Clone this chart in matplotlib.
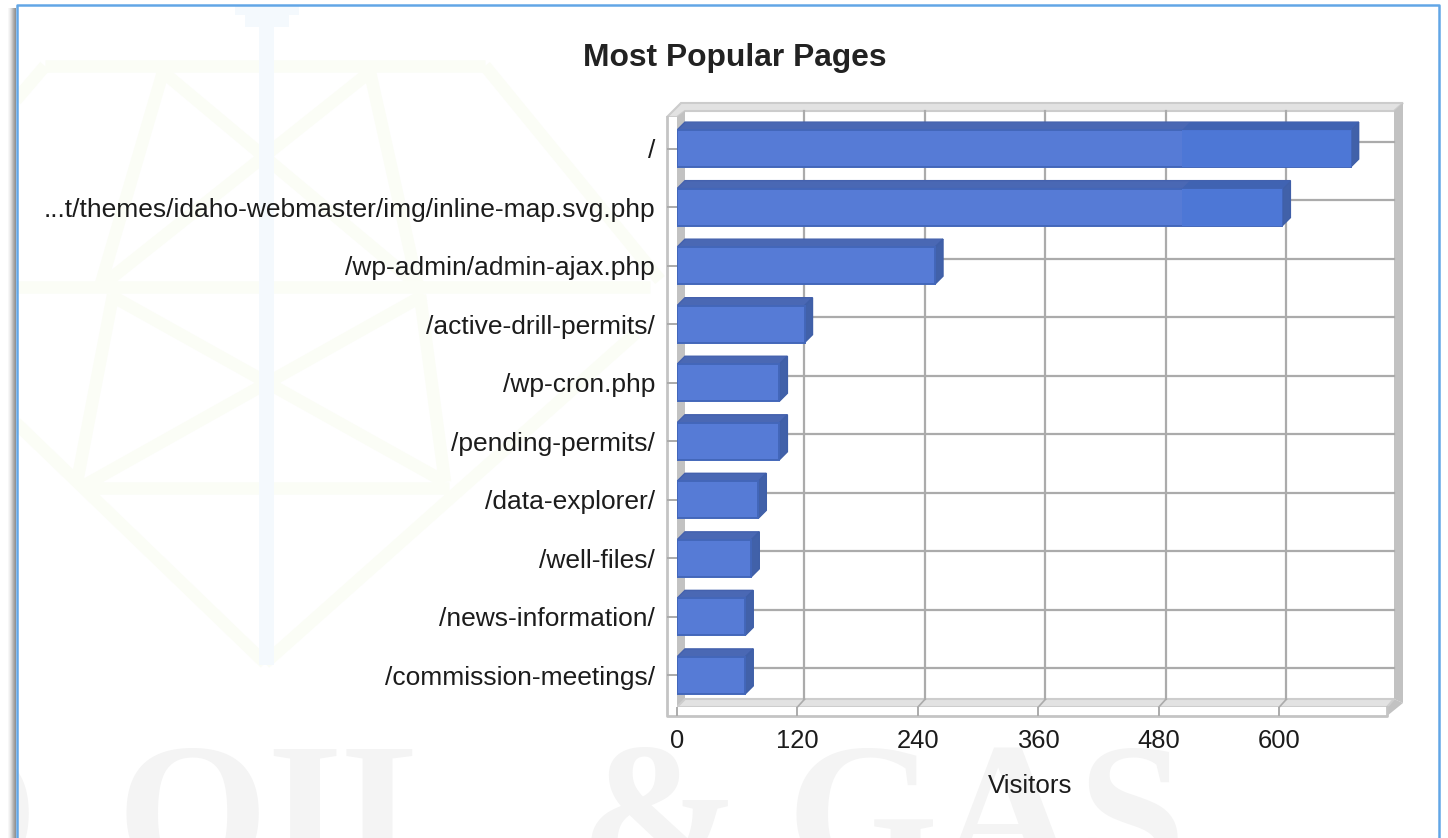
#!/usr/bin/env python3
"""Most Popular Pages: flat 3D style horizontal bar chart on a watermarked panel."""

import matplotlib
matplotlib.use("Agg")
import matplotlib.pyplot as plt
from matplotlib.patches import Polygon, Rectangle

pages = [
    "/",
    "...t/themes/idaho-webmaster/img/inline-map.svg.php",
    "/wp-admin/admin-ajax.php",
    "/active-drill-permits/",
    "/wp-cron.php",
    "/pending-permits/",
    "/data-explorer/",
    "/well-files/",
    "/news-information/",
    "/commission-meetings/",
]
visitors = [671, 603, 257, 127, 102, 102, 81, 74, 68, 68]
x_ticks = [0, 120, 240, 360, 480, 600]

FONT = "Liberation Sans"
TEXT_COLOR = "#1c1c1c"
WALL = "#c2c2c2"
FLOOR = "#e2e2e2"
GRID = "#ababab"

W, H = 1448, 838
fig = plt.figure(figsize=(W / 100, H / 100), dpi=100, facecolor="white")

# background layer in pixel coordinates: panel, watermark, chart walls
bg = fig.add_axes([0, 0, 1, 1], zorder=0)
bg.set_xlim(0, W)
bg.set_ylim(H, 0)
bg.axis("off")

# gem watermark
green = "#fbfdf6"
gem_lines = [
    [(45, 66), (485, 66)],
    [(45, 66), (16, 100)], [(485, 66), (660, 280)],
    [(16, 287), (650, 287)],
    [(163, 72), (100, 287)], [(370, 72), (418, 287)],
    [(163, 72), (420, 287)], [(370, 72), (100, 287)],
    [(113, 295), (77, 482)], [(420, 295), (445, 482)],
    [(424, 295), (85, 485)], [(110, 295), (445, 482)],
    [(85, 488), (449, 488)],
    [(16, 423), (265, 663)], [(636, 333), (265, 663)],
]
for (x0, y0), (x1, y1) in gem_lines:
    bg.plot([x0, x1], [y0, y1], color=green, lw=9, solid_capstyle="butt", zorder=1)
blue = "#f4f9fd"
bg.add_patch(Rectangle((259, 5), 15, 660, fc=blue, ec="none", zorder=2))
bg.add_patch(Rectangle((235, 6), 64, 9, fc=blue, ec="none", zorder=2))
bg.add_patch(Rectangle((245, 15), 44, 12, fc=blue, ec="none", zorder=2))

# lettering watermark, cut by the bottom of the image
for word, x in [("O", -113), ("OIL", 116), ("&", 580), ("GAS", 786)]:
    bg.text(x, 742, word, family="Liberation Serif", fontweight="bold", fontsize=140,
            color="#f4f4f4", ha="left", va="top", zorder=1)

# window edge and its shadow on the left
bg.add_patch(Rectangle((0, 0), 16, H, fc="white", ec="none", zorder=2))
for i, a in enumerate([0.05, 0.1, 0.18, 0.28, 0.4, 0.52, 0.62, 0.7]):
    bg.add_patch(Rectangle((8 + i, 8), 1, H, fc="#666666", alpha=a, ec="none", zorder=2))
bg.plot([16.5, 16.5, 1438.5, 1438.5], [H, 5.5, 5.5, H], color="#62a6e6", lw=1.8, zorder=2)

# chart walls
bg.add_patch(Polygon([(667, 117), (681, 103), (1403, 103), (1394, 111), (685, 111), (677, 117)],
                     fc=FLOOR, ec="#cccccc", lw=1.5, zorder=3))
bg.add_patch(Polygon([(1394, 111), (1403, 103), (1403, 703), (1394, 699)], fc=WALL, ec="none", zorder=3))
bg.add_patch(Polygon([(677, 117), (685, 111), (685, 699), (677, 707)], fc=WALL, ec="none", zorder=3))
bg.add_patch(Polygon([(1394, 699), (1403, 703), (1387, 716), (1387, 707)], fc=WALL, ec="none", zorder=3))
bg.add_patch(Polygon([(677, 707), (685, 699), (1394, 699), (1387, 707)], fc=FLOOR, ec="#cdcdcd", lw=1.5, zorder=3))
bg.add_patch(Rectangle((667, 117), 10, 599, fc="white", ec="none", zorder=3))
bg.add_patch(Rectangle((677, 707), 710, 9, fc="white", ec="none", zorder=3))
bg.plot([667, 667, 1387, 1387], [117, 716, 716, 707], color="#c4c4c4", lw=2, zorder=3)

# front plane of the chart; x in visitors, y in categories
ax = fig.add_axes([677 / W, 1 - 707 / H, (1387 - 677) / W, (707 - 117) / H], zorder=1)
ax.patch.set_visible(False)
for s in ax.spines.values():
    s.set_visible(False)
ax.set_xlim(0, 707.2)
ax.set_ylim(9.54, -0.54)

dx = 8 / 1.004       # depth in data units
dy = 8 / 58.5
gdx = 7 / 1.004
gdy = 7 / 58.5
bar_h = 0.632
shade_from = 503     # brighter band at the right end of long bars

# back wall grid
for t in x_ticks[1:]:
    ax.plot([t + gdx, t + gdx], [-0.54 - gdy * 0.85, 9.54 - gdy * 1.1], color=GRID, lw=1.6, zorder=1, clip_on=False)
    ax.plot([t, t + gdx], [9.54, 9.54 - gdy * 1.1], color=GRID, lw=1.2, zorder=1, clip_on=False)
for i in range(len(pages)):
    ax.plot([dx, 707.2 + dx * 0.9], [i - gdy, i - gdy], color=GRID, lw=1.6, zorder=1, clip_on=False)

# bars
for i, v in enumerate(visitors):
    top, bot = i - bar_h / 2, i + bar_h / 2
    ax.add_patch(Polygon([(0, top), (dx, top - dy), (v + dx, top - dy), (v, top)],
                         fc="#4a68b4", ec="#4461ad", lw=1, zorder=3))
    ax.add_patch(Polygon([(v, top), (v + dx, top - dy), (v + dx, bot - dy), (v, bot)],
                         fc="#4161a9", ec="#3f5fa8", lw=1, zorder=3))
    ax.barh(i, v, height=bar_h, color="#567bd6", edgecolor="#4367ba", linewidth=1.4, zorder=4)
    if v > shade_from:
        ax.add_patch(Rectangle((shade_from, top), v - shade_from, bar_h, fc="#4d77d6", ec="none", zorder=5))
        ax.add_patch(Polygon([(shade_from + dx, top - dy), (v + dx, top - dy), (v, top), (shade_from, top)],
                             fc="#4063b2", ec="none", zorder=5))

ax.set_yticks(range(len(pages)))
ax.set_yticklabels(pages, family=FONT, fontsize=19, color=TEXT_COLOR)
ax.set_xticks(x_ticks)
ax.set_xticklabels([str(t) for t in x_ticks], family=FONT, fontsize=18.4, color=TEXT_COLOR)
ax.tick_params(axis="y", length=7.2, width=1.4, color=GRID, pad=8.6)
ax.tick_params(axis="x", length=6.5, width=1.4, color=GRID, pad=9.5)

fig.text(735 / W, 1 - 58 / H, "Most Popular Pages", family=FONT, fontweight="bold", fontsize=22.9,
         color="#222222", ha="center", va="center", zorder=3)
fig.text(1030 / W, 1 - 786 / H, "Visitors", family=FONT, fontsize=18.6,
         color=TEXT_COLOR, ha="center", va="center", zorder=3)

fig.savefig("out.png", dpi=100)
